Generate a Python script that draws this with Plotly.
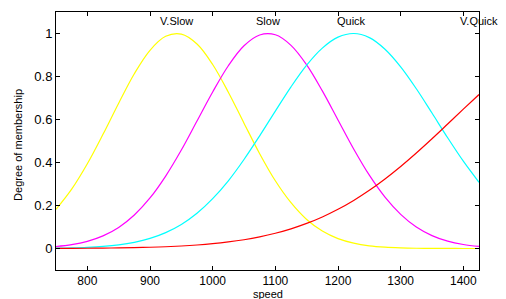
import plotly.graph_objects as go

speed = [750, 775, 800, 825, 850, 875, 900, 925, 950, 975, 1000, 1025, 1050, 1075,
         1100, 1125, 1150, 1175, 1200, 1225, 1250, 1275, 1300, 1325, 1350, 1375, 1400, 1425]

v_slow = [0.182, 0.276, 0.394, 0.531, 0.676, 0.813, 0.922, 0.987, 0.997, 0.951, 0.856, 0.727,
          0.583, 0.441, 0.315, 0.213, 0.135, 0.081, 0.046, 0.025, 0.0125, 0.006, 0.0027, 0.0011,
          0.0005, 0.0002, 0.0001, 0.0]
slow = [0.0093, 0.018, 0.0334, 0.0587, 0.098, 0.156, 0.235, 0.337, 0.458, 0.593, 0.728, 0.850,
        0.943, 0.993, 0.994, 0.945, 0.854, 0.733, 0.598, 0.463, 0.341, 0.239, 0.159, 0.100,
        0.060, 0.034, 0.0185, 0.0095]
quick = [0.0014, 0.0028, 0.0053, 0.0097, 0.017, 0.0288, 0.047, 0.0739, 0.112, 0.164, 0.232,
         0.315, 0.414, 0.524, 0.639, 0.752, 0.853, 0.932, 0.983, 1.0, 0.981, 0.927, 0.845, 0.743,
         0.630, 0.515, 0.406, 0.308]
v_quick = [0.0005, 0.0008, 0.0012, 0.0018, 0.0027, 0.0039, 0.0057, 0.0082, 0.0116, 0.0162,
           0.0223, 0.0304, 0.0408, 0.0541, 0.0708, 0.0915, 0.1166, 0.1468, 0.1824, 0.2237,
           0.2708, 0.3236, 0.3816, 0.4442, 0.5104, 0.5789, 0.648, 0.716]

mf_names = ["V.Slow", "Slow", "Quick", "V.Quick"]
mf_centers = [943, 1089, 1222, 1425]
x_ticks = [800, 900, 1000, 1100, 1200, 1300, 1400]
y_ticks = [0, 0.2, 0.4, 0.6, 0.8, 1]

series = [(v_slow, "#ffff00"), (slow, "#ff00ff"), (quick, "#00ffff"), (v_quick, "#ff0000")]

FONT = "Liberation Sans, Arial"

fig = go.Figure()
for vals, col in series:
    fig.add_trace(go.Scatter(x=speed, y=vals, mode="lines",
                             line=dict(color=col, width=1.2, shape="spline"),
                             showlegend=False, hoverinfo="skip"))

for name, cx in zip(mf_names, mf_centers):
    fig.add_annotation(x=cx, y=1.056, xref="x", yref="y", text=name, showarrow=False,
                       xanchor="center", yanchor="middle",
                       font=dict(family=FONT, size=11, color="black"))

fig.add_annotation(x=0.5, y=-0.066, xref="paper", yref="paper", text="speed", showarrow=False,
                   xanchor="center", yanchor="top", borderpad=0,
                   font=dict(family=FONT, size=11, color="black"))
fig.add_annotation(x=-0.0898, y=0.485, xref="paper", yref="paper", text="Degree of membership",
                   showarrow=False, textangle=-90, xanchor="center", yanchor="middle",
                   font=dict(family=FONT, size=11, color="black"))

axis_common = dict(showline=True, linecolor="black", linewidth=1, mirror="ticks",
                   ticks="inside", ticklen=4, tickcolor="black", showgrid=False, zeroline=False)
fig.update_xaxes(range=[750, 1425], tickvals=x_ticks,
                 tickfont=dict(family=FONT, size=12, color="black"), **axis_common)
fig.update_yaxes(range=[-0.1, 1.1], tickvals=y_ticks, ticktext=[str(v) for v in y_ticks],
                 tickfont=dict(family=FONT, size=13, color="black"), **axis_common)

# page body has an 8px default margin, so the figure is shrunk by 8px to fit the window
fig.update_layout(width=498, height=291, margin=dict(l=48, r=27, t=4, b=29),
                  plot_bgcolor="white", paper_bgcolor="white")

fig.write_html("out.html")
